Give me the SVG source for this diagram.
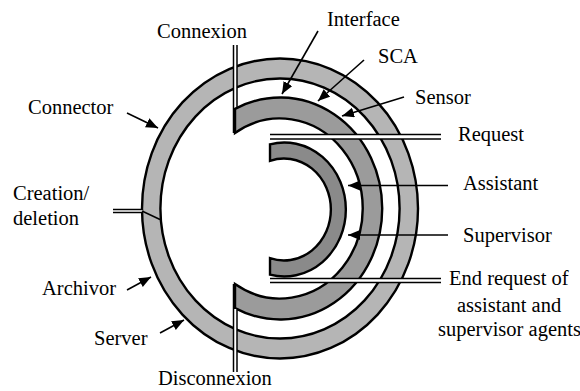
<svg xmlns="http://www.w3.org/2000/svg" width="580" height="391" viewBox="0 0 580 391">
  <style>
    .ring { stroke: #000; stroke-width: 2.4; vector-effect: non-scaling-stroke; }
    .line { stroke: #000; stroke-width: 1.5; fill: none; }
    .arrow { stroke: #000; stroke-width: 1.6; fill: none; marker-end: url(#head); }
    .gap { fill: #fff; }
    text { font-family: "Liberation Serif", "Times New Roman", serif; font-size: 20.5px; fill: #000; }
  </style>
  <defs>
    <marker id="head" markerUnits="userSpaceOnUse" markerWidth="13" markerHeight="11" refX="12" refY="5" orient="auto">
      <path d="M0,0 L12,5 L0,10 Z" fill="#000"/>
    </marker>
  </defs>
  <rect width="580" height="391" fill="#fff"/>

  <!-- outer ring: server / connector / archivor layer -->
  <g id="outer-ring" transform="translate(280 208.5) scale(0.92 1)">
    <path class="ring" fill="#b5b5b5" fill-rule="evenodd"
          d="M150,0 A150,150 0 1 1 -150,0 A150,150 0 1 1 150,0 Z M130,0 A130,130 0 1 0 -130,0 A130,130 0 1 0 130,0 Z"/>
  </g>

  <!-- middle C-ring: interface / SCA / sensor layer -->
  <g id="middle-ring" transform="translate(280 208.5) scale(0.92 1)">
    <path class="ring" fill="#9b9b9b"
          d="M-48.9,-99.6 A111,111 0 1 1 -48.9,99.6 L-48.9,75.6 A90,90 0 1 0 -48.9,-75.6 Z"/>
  </g>

  <!-- inner C-ring: assistant / supervisor agents -->
  <g id="inner-ring" transform="translate(284 209.5) scale(0.92 1)">
    <path class="ring" fill="#8a8a8a"
          d="M-15.2,-65.2 A67,67 0 1 1 -15.2,65.2 L-15.2,48.7 A51,51 0 1 0 -15.2,-48.7 Z"/>
  </g>

  <g id="connectors">
    <!-- Connexion double line -->
    <rect class="gap" x="233.5" y="45" width="3.5" height="62"/>
    <line class="line" x1="233.5" y1="45" x2="233.5" y2="133"/>
    <line class="line" x1="237" y1="45" x2="237" y2="108"/>
    <!-- Disconnexion double line -->
    <rect class="gap" x="233.5" y="309" width="3.5" height="63"/>
    <line class="line" x1="233.5" y1="284" x2="233.5" y2="372"/>
    <line class="line" x1="237" y1="309" x2="237" y2="372"/>
    <!-- Creation/deletion -->
    <rect class="gap" x="113" y="209.5" width="30" height="3"/>
    <line class="line" x1="113" y1="209.5" x2="143" y2="209.5"/>
    <line class="line" x1="113" y1="212.5" x2="143" y2="212.5"/>
    <line class="line" x1="142" y1="211" x2="160" y2="219.5"/>
    <!-- Request double line -->
    <rect class="gap" x="270" y="134.5" width="171" height="4.5"/>
    <line class="line" x1="270" y1="134.5" x2="441" y2="134.5"/>
    <line class="line" x1="270" y1="139" x2="441" y2="139"/>
    <!-- End request double line -->
    <rect class="gap" x="270" y="278.5" width="171" height="4"/>
    <line class="line" x1="270" y1="278.5" x2="441" y2="278.5"/>
    <line class="line" x1="270" y1="282.5" x2="441" y2="282.5"/>
    <!-- Pointer arrows -->
    <line class="arrow" x1="448" y1="185.5" x2="348" y2="185.5"/>
    <line class="arrow" x1="448" y1="235" x2="348" y2="235"/>
    <line class="arrow" x1="318" y1="31" x2="282" y2="94"/>
    <line class="arrow" x1="364" y1="60" x2="318" y2="101"/>
    <line class="arrow" x1="404" y1="97" x2="342" y2="116"/>
    <line class="arrow" x1="127" y1="113" x2="158" y2="128"/>
    <line class="arrow" x1="127" y1="290" x2="151" y2="277"/>
    <line class="arrow" x1="160" y1="333" x2="184" y2="320"/>
  </g>

  <g id="labels">
    <text x="157" y="38">Connexion</text>
    <text x="327" y="26">Interface</text>
    <text x="378" y="63">SCA</text>
    <text x="415" y="104">Sensor</text>
    <text x="458" y="141">Request</text>
    <text x="463" y="190">Assistant</text>
    <text x="463" y="242">Supervisor</text>
    <text x="449" y="285">End request of</text>
    <text x="457" y="312">assistant and</text>
    <text x="438" y="336">supervisor agents</text>
    <text x="28" y="114">Connector</text>
    <text x="13" y="200">Creation/</text>
    <text x="13" y="225">deletion</text>
    <text x="42" y="295">Archivor</text>
    <text x="94" y="345">Server</text>
    <text x="158" y="385">Disconnexion</text>
  </g>
</svg>
